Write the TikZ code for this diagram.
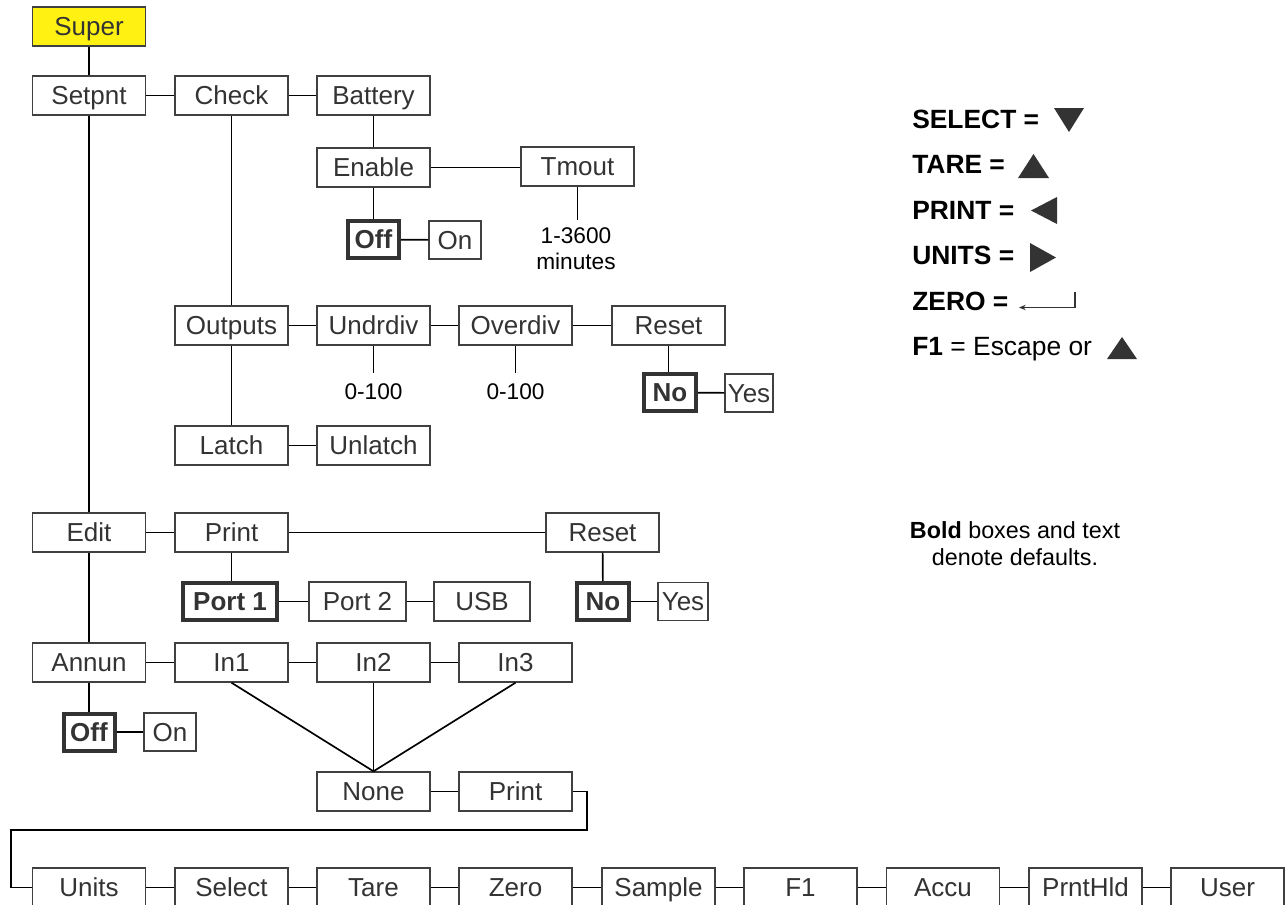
\documentclass[tikz,border=0pt]{standalone}
\usepackage{fontspec}
\setmainfont{Liberation Sans}
\usetikzlibrary{arrows.meta}
\definecolor{ink}{HTML}{333333}
\definecolor{boxline}{HTML}{404040}
\definecolor{superyellow}{HTML}{FFF212}
\begin{document}
\begin{tikzpicture}[x=0.75pt,y=-0.75pt,
  box/.style={draw=boxline, line width=1.05pt, fill=white, minimum width=84.75pt, minimum height=29.25pt,
    inner sep=0pt, text height=14pt, text depth=0pt, font=\fontsize{19.5}{23}\selectfont, text=ink},
  onbox/.style={box, minimum width=39pt, minimum height=28.5pt},
  defbox/.style={box, line width=3pt, draw=ink, font=\fontsize{19.5}{23}\selectfont\bfseries,
    minimum width=38.25pt, minimum height=27.75pt},
  wire/.style={line width=1.25pt, black},
  val/.style={font=\fontsize{17}{19.5}\selectfont, text=black, inner sep=0pt, anchor=base},
  legend/.style={font=\fontsize{19.8}{23}\selectfont, text=black, inner sep=0pt, anchor=base west},
  tri/.style={fill=ink, draw=none}
]
\clip (0,0) rectangle (1285,904);
\fill[white] (0,0) rectangle (1285,904);

% top tree
\node[box, fill=superyellow] (super) at (89,26.5) {Super};
\node[box] (setpnt) at (89,95.5) {Setpnt};
\node[box] (check) at (231.5,95.5) {Check};
\node[box] (battery) at (373.5,95.5) {Battery};
\node[box] (enable) at (373.5,167.5) {Enable};
\node[box] (tmout) at (577.5,166.5) {Tmout};
\node[defbox] (off1) at (373.5,239.5) {Off};
\node[onbox] (on1) at (455,240) {On};
\coordinate (tmend) at (577.5,220);
\node[val] (t3600) at (576,243) {1-3600};
\node[val] (tmin) at (576,269) {minutes};

\node[box] (outputs) at (231.5,325.5) {Outputs};
\node[box] (undrdiv) at (373.5,325.5) {Undrdiv};
\node[box] (overdiv) at (515.5,325.5) {Overdiv};
\node[box] (reset1) at (668.5,325.5) {Reset};
\coordinate (udend) at (373.5,373);
\coordinate (odend) at (515.5,373);
\node[val] (ud100) at (373.5,399) {0-100};
\node[val] (od100) at (515.5,399) {0-100};
\node[defbox, minimum width=39pt] (no1) at (670,392.5) {No};
\node[onbox, minimum width=36pt] (yes1) at (749,393) {Yes};

\node[box] (latch) at (231.5,445.5) {Latch};
\node[box] (unlatch) at (373.5,445.5) {Unlatch};

\node[box] (edit) at (89,532.5) {Edit};
\node[box] (print1) at (231.5,532.5) {Print};
\node[box] (reset2) at (602.5,532.5) {Reset};
\node[defbox, minimum width=70.5pt] (port1) at (230,601.5) {Port 1};
\node[box, minimum width=72.75pt] (port2) at (357.5,601.5) {Port 2};
\node[box, minimum width=72pt] (usb) at (482,601.5) {USB};
\node[defbox, minimum width=39pt] (no2) at (603,601.5) {No};
\node[onbox, minimum width=37.5pt] (yes2) at (683,601.5) {Yes};

\node[box] (annun) at (89,662.5) {Annun};
\node[box] (in1) at (231.5,662.5) {In1};
\node[box] (in2) at (373.5,662.5) {In2};
\node[box] (in3) at (515.5,662.5) {In3};
\node[defbox] (off2) at (89,732) {Off};
\node[onbox] (on2) at (170,732) {On};

\node[box] (none) at (373.5,791.5) {None};
\node[box] (print2) at (515.5,791.5) {Print};
\coordinate (ela) at (587,830);
\coordinate (elb) at (11,830);

\node[box] (units) at (89,887.5) {Units};
\node[box] (select) at (231.5,887.5) {Select};
\node[box] (tare) at (373.5,887.5) {Tare};
\node[box] (zero) at (515.5,887.5) {Zero};
\node[box] (sample) at (658.5,887.5) {Sample};
\node[box] (f1) at (800.5,887.5) {F1};
\node[box] (accu) at (943,887.5) {Accu};
\node[box] (prnthld) at (1085.5,887.5) {PrntHld};
\node[box] (user) at (1227.5,887.5) {User};

% connectors
\draw[wire] (super) -- (setpnt);
\draw[wire] (setpnt) -- (check);
\draw[wire] (check) -- (battery);
\draw[wire] (battery) -- (enable);
\draw[wire] (enable.east) -- (tmout.west|-enable.east);
\draw[wire] (enable) -- (off1);
\draw[wire] (off1) -- (on1);
\draw[wire] (tmout) -- (tmend);
\draw[wire] (setpnt) -- (edit);
\draw[wire] (edit) -- (annun);
\draw[wire] (check) -- (outputs);
\draw[wire] (outputs) -- (latch);
\draw[wire] (outputs) -- (undrdiv);
\draw[wire] (undrdiv) -- (overdiv);
\draw[wire] (overdiv) -- (reset1);
\draw[wire] (undrdiv) -- (udend);
\draw[wire] (overdiv) -- (odend);
\draw[wire] (reset1.south) -- (reset1.south|-no1.north);
\draw[wire] (no1) -- (yes1);
\draw[wire] (latch) -- (unlatch);
\draw[wire] (edit) -- (print1);
\draw[wire] (print1) -- (reset2);
\draw[wire] (print1) -- (print1|-port1.north);
\draw[wire] (port1) -- (port2);
\draw[wire] (port2) -- (usb);
\draw[wire] (reset2) -- (no2);
\draw[wire] (no2) -- (yes2);
\draw[wire] (annun) -- (in1);
\draw[wire] (in1) -- (in2);
\draw[wire] (in2) -- (in3);
\draw[wire] (annun) -- (off2);
\draw[wire] (off2) -- (on2);
\draw[wire] (in1.south) -- (none.north);
\draw[wire] (in2.south) -- (none.north);
\draw[wire] (in3.south) -- (none.north);
\draw[wire] (none) -- (print2);
\draw[wire] (print2.east) -| (ela) -- (elb) |- (units.west);
\draw[wire] (units) -- (select);
\draw[wire] (select) -- (tare);
\draw[wire] (tare) -- (zero);
\draw[wire] (zero) -- (sample);
\draw[wire] (sample) -- (f1);
\draw[wire] (f1) -- (accu);
\draw[wire] (accu) -- (prnthld);
\draw[wire] (prnthld) -- (user);

% legend
\node[legend] (lsel) at (912,128) {\bfseries SELECT =};
\fill[tri] (1054,108) -- (1084,108) -- (1069,132) -- cycle;
\node[legend] (ltare) at (912,173) {\bfseries TARE =};
\fill[tri] (1018,178) -- (1049,178) -- (1033.5,154) -- cycle;
\node[legend] (lprint) at (912,219) {\bfseries PRINT =};
\fill[tri] (1057,197) -- (1057,224) -- (1031,210.5) -- cycle;
\node[legend] (lunits) at (912,264) {\bfseries UNITS =};
\fill[tri] (1030,243) -- (1030,272) -- (1056,257.5) -- cycle;
\node[legend] (lzero) at (912,310) {\bfseries ZERO =};
\draw[line width=0.9pt, ink, -{Stealth[length=5pt,width=4pt]}] (1075,292) -- (1075,307.5) -- (1019,307.5);
\node[legend] (lf1) at (912,355) {\textbf{F1} = Escape or};
\fill[tri] (1107,359) -- (1137,359) -- (1122,337) -- cycle;

\node[font=\fontsize{17.5}{20}\selectfont, inner sep=0pt, anchor=base] (note1) at (1015,538) {\textbf{Bold} boxes and text};
\node[font=\fontsize{17.5}{20}\selectfont, inner sep=0pt, anchor=base] (note2) at (1015,565) {denote defaults.};
\end{tikzpicture}
\end{document}
